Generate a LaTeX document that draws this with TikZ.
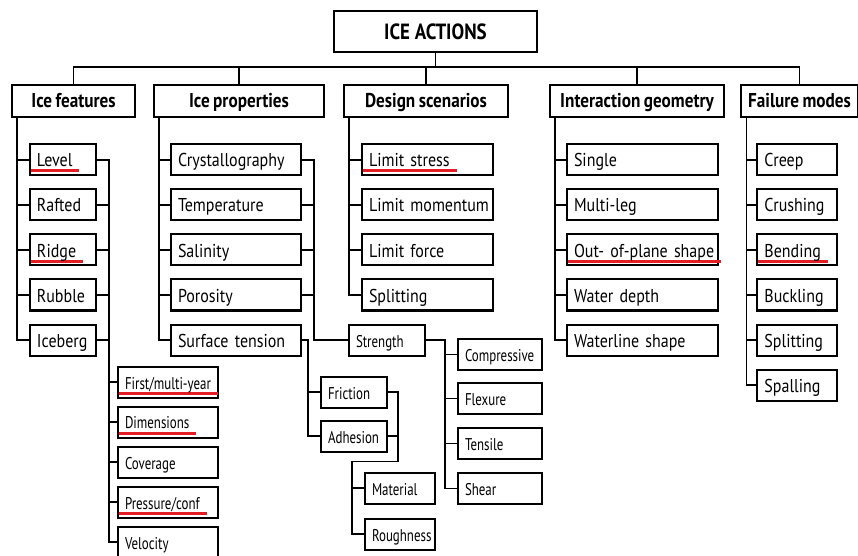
\documentclass[tikz,border=0pt]{standalone}
\usepackage{fontspec}
\setmainfont{PT Sans}[FakeStretch=0.86]
\newfontfamily\narrowfont{PT Sans}[FakeStretch=0.76]
\usetikzlibrary{positioning}
\definecolor{markred}{RGB}{228,28,36}
\newsavebox{\markbox}
\newcommand{\marked}[1]{\sbox{\markbox}{#1}\rlap{\kern-3pt\textcolor{markred}{\rule[-2.75pt]{\dimexpr\wd\markbox+6.5pt\relax}{1.5pt}}}\usebox{\markbox}}
\newcommand{\tightspace}{\spaceskip=0.17em\relax}
\tikzset{
  box/.style={draw,line width=1pt,inner ysep=0pt},
  rootbox/.style={box,font=\bfseries\fontsize{11}{13}\selectfont,minimum width=101.5pt,minimum height=20.5pt,text height=8.5pt,text depth=0pt},
  headbox/.style={box,font=\bfseries\fontsize{10}{12}\selectfont\tightspace,minimum width=#1,minimum height=16pt,text height=7pt,text depth=0pt},
  itembox/.style={box,font=\fontsize{9.3}{11}\selectfont\tightspace,text width=#1,align=left,inner xsep=3.5pt,minimum height=15.5pt,text height=7pt,text depth=0pt,execute at begin node=\hbox\bgroup,execute at end node=\egroup},
  subbox/.style={itembox=#1,font=\narrowfont\fontsize{8.5}{10}\selectfont\tightspace},
  link/.style={line width=0.8pt},
}
\begin{document}
\begin{tikzpicture}[x=0.5pt,y=-0.5pt]
  \useasboundingbox (0,0) rectangle (858,556);
  \node[rootbox] (root) at (435.5,31.5) {ICE ACTIONS};
  \node[headbox=61.5pt] (feat) at (73.5,101) {Ice features};
  \node[headbox=85pt]   (prop) at (239,101) {Ice properties};
  \node[headbox=82pt]   (scen) at (426,101) {Design scenarios};
  \node[headbox=87pt]   (geom) at (637,101) {Interaction geometry};
  \node[headbox=56.5pt] (fail) at (799.5,101) {Failure modes};
  \coordinate[below=7pt of root] (bus);

  % ice features
  \node[itembox=26pt] (level)   [below right=12.75pt and 9pt of feat.south west] {\marked{Level}};
  \node[itembox=26pt] (rafted)  [below=6pt of level] {Rafted};
  \node[itembox=26pt] (ridge)   [below=6pt of rafted] {\marked{Ridge}};
  \node[itembox=26pt] (rubble)  [below=6pt of ridge] {Rubble};
  \node[itembox=26pt] (iceberg) [below=6pt of rubble] {Iceberg};
  \node[subbox=43pt] (year)     [below right=4.5pt and 10pt of iceberg.south east] {\marked{First/multi-year}};
  \node[subbox=43pt] (dims)     [below=3.5pt of year] {\marked{Dimensions}};
  \node[subbox=43pt] (cover)    [below=3.5pt of dims] {Coverage};
  \node[subbox=43pt] (press)    [below=3.5pt of cover] {\marked{Pressure/conf}};
  \node[subbox=43pt] (velocity) [below=3.5pt of press] {Velocity};

  % ice properties
  \node[itembox=58pt] (cryst) [below right=12.75pt and 8.5pt of prop.south west] {Crystallography};
  \node[itembox=58pt] (temp)  [below=6pt of cryst] {Temperature};
  \node[itembox=58pt] (salin) [below=6pt of temp] {Salinity};
  \node[itembox=58pt] (poros) [below=6pt of salin] {Porosity};
  \node[itembox=58pt] (surf)  [below=6pt of poros] {Surface tension};
  \node[subbox=31pt] (strength) [right=23pt of surf] {Strength};
  \node[subbox=35pt] (compr)  [right=15.5pt of strength, yshift=-7.25pt] {Compressive};
  \node[subbox=35pt] (flex)   [below=5.5pt of compr] {Flexure};
  \node[subbox=35pt] (tens)   [below=6pt of flex] {Tensile};
  \node[subbox=35pt] (shear)  [below=6pt of tens] {Shear};
  \node[subbox=26pt] (fric)   [below right=9.5pt and 9pt of surf.south east] {Friction};
  \node[subbox=26pt] (adhes)  [below=5.5pt of fric] {Adhesion};
  \node[subbox=28pt] (mater)  [below right=9.5pt and 22pt of adhes.south west] {Material};
  \node[subbox=28pt] (rough)  [below=6.5pt of mater] {Roughness};

  % design scenarios
  \node[itembox=58.5pt] (lstress) [below right=12.75pt and 9pt of scen.south west] {\marked{Limit stress}};
  \node[itembox=58.5pt] (lmoment) [below=6pt of lstress] {Limit momentum};
  \node[itembox=58.5pt] (lforce)  [below=6pt of lmoment] {Limit force};
  \node[itembox=58.5pt] (dsplit)  [below=6pt of lforce] {Splitting};

  % interaction geometry
  \node[itembox=68.5pt] (single) [below right=12.75pt and 8.5pt of geom.south west] {Single};
  \node[itembox=68.5pt] (multi)  [below=6pt of single] {Multi-leg};
  \node[itembox=68.5pt] (oop)    [below=6pt of multi] {\marked{Out- of-plane shape}};
  \node[itembox=68.5pt] (depth)  [below=6pt of oop] {Water depth};
  \node[itembox=68.5pt] (wline)  [below=6pt of depth] {Waterline shape};

  % failure modes
  \node[itembox=33pt] (creep) [below right=12.75pt and 8pt of fail.south west] {Creep};
  \node[itembox=33pt] (crush) [below=6pt of creep] {Crushing};
  \node[itembox=33pt] (bend)  [below=6pt of crush] {\marked{Bending}};
  \node[itembox=33pt] (buck)  [below=6pt of bend] {Buckling};
  \node[itembox=33pt] (fsplit)[below=6pt of buck] {Splitting};
  \node[itembox=33pt] (spall) [below=6pt of fsplit] {Spalling};

  \draw[link] (root) -- (bus)
    (feat.north) |- (bus) -| (fail.north)
    (prop.north) -- (prop.north |- bus)
    (scen.north) -- (scen.north |- bus)
    (geom.north) -- (geom.north |- bus);

  \draw[link] ([xshift=3pt]feat.south west) |- (iceberg)
    ([xshift=3pt]feat.south west) |- (level)
    ([xshift=3pt]feat.south west) |- (rafted)
    ([xshift=3pt]feat.south west) |- (ridge)
    ([xshift=3pt]feat.south west) |- (rubble);
  \draw[link] (level.east) -- ++(6pt,0) coordinate (fs) |- (velocity)
    (rafted.east) -- (rafted.east -| fs)
    (ridge.east) -- (ridge.east -| fs)
    (rubble.east) -- (rubble.east -| fs)
    (iceberg.east) -- (iceberg.east -| fs)
    (fs |- year) -- (year)
    (fs |- dims) -- (dims)
    (fs |- cover) -- (cover)
    (fs |- press) -- (press);

  \draw[link] ([xshift=3pt]prop.south west) |- (surf)
    ([xshift=3pt]prop.south west) |- (cryst)
    ([xshift=3pt]prop.south west) |- (temp)
    ([xshift=3pt]prop.south west) |- (salin)
    ([xshift=3pt]prop.south west) |- (poros);
  \draw[link] (cryst.east) -- ++(6pt,0) coordinate (ps) |- (strength)
    (temp.east) -- (temp.east -| ps)
    (salin.east) -- (salin.east -| ps)
    (poros.east) -- (poros.east -| ps);
  \draw[link] (strength.east) -- ++(9.5pt,0) coordinate (ss) |- (shear)
    (ss |- compr) -- (compr)
    (ss |- flex) -- (flex)
    (ss |- tens) -- (tens);
  \draw[link] (surf.east) -- ++(3pt,0) coordinate (ts) |- (adhes)
    (ts |- fric) -- (fric);
  \draw[link] (fric.east) -- ++(5pt,0) coordinate (fa) |- ([yshift=-4.5pt]adhes.south)
    -| ([xshift=-6pt]rough.west) -- (rough.west)
    (adhes.east) -- (adhes.east -| fa)
    ([xshift=-6pt]mater.west) -- (mater.west);

  \draw[link] ([xshift=3pt]scen.south west) |- (dsplit)
    ([xshift=3pt]scen.south west) |- (lstress)
    ([xshift=3pt]scen.south west) |- (lmoment)
    ([xshift=3pt]scen.south west) |- (lforce);

  \draw[link] ([xshift=3pt]geom.south west) |- (wline)
    ([xshift=3pt]geom.south west) |- (single)
    ([xshift=3pt]geom.south west) |- (multi)
    ([xshift=3pt]geom.south west) |- (oop)
    ([xshift=3pt]geom.south west) |- (depth);

  \draw[link] ([xshift=3pt]fail.south west) |- (spall)
    ([xshift=3pt]fail.south west) |- (creep)
    ([xshift=3pt]fail.south west) |- (crush)
    ([xshift=3pt]fail.south west) |- (bend)
    ([xshift=3pt]fail.south west) |- (buck)
    ([xshift=3pt]fail.south west) |- (fsplit);
\end{tikzpicture}
\end{document}
